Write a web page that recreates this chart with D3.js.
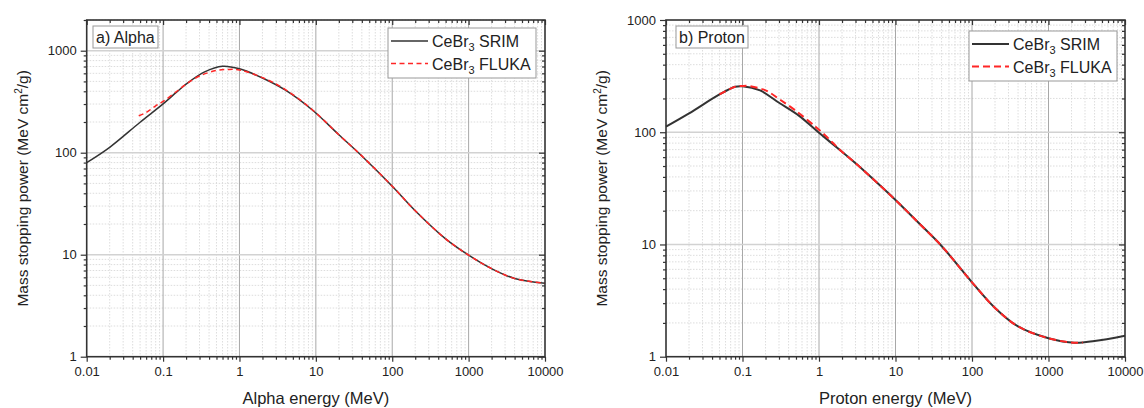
<!DOCTYPE html>
<html>
<head>
<meta charset="utf-8">
<script src="https://cdn.jsdelivr.net/npm/d3@7"></script>
<style>
  body { margin: 0; background: #fff; }
  svg text { font-family: "Liberation Sans", Arial, sans-serif; fill: #222; }
</style>
</head>
<body>
<script>
// values (energy in MeV, mass stopping power in MeV cm2/g)
const alphaSrimE = [0.01, 0.02, 0.05, 0.1, 0.15, 0.2, 0.35, 0.6, 1, 2, 4, 9, 20, 40, 100, 200, 500, 1000, 2000, 4000, 10000];
const alphaSrimS = [80, 113, 199, 301, 392, 470, 620, 703, 664, 540, 410, 262, 150, 93, 47, 27, 14.3, 9.9, 7.3, 5.85, 5.25];
const alphaFlukaE = [0.048, 0.06, 0.08, 0.1, 0.15, 0.2, 0.3, 0.5, 0.7, 1, 2, 4, 9, 20, 40, 100, 200, 500, 1000, 2000, 4000, 10000];
const alphaFlukaS = [230, 248, 288, 318, 398, 470, 565, 640, 655, 648, 545, 416, 264, 150, 93, 47, 27, 14.3, 9.9, 7.3, 5.85, 5.25];

const protonSrimE = [0.01, 0.02, 0.05, 0.08, 0.1, 0.17, 0.3, 0.55, 1, 2, 3.2, 6, 10, 20, 40, 100, 200, 400, 1000, 2200, 4000, 10000];
const protonSrimS = [112, 147, 217, 254, 257, 236, 183, 140, 99, 67, 51, 34.5, 24.9, 15.6, 9.7, 4.6, 2.72, 1.86, 1.46, 1.33, 1.38, 1.54];
const protonFlukaE = [0.05, 0.08, 0.1, 0.12, 0.2, 0.3, 0.5, 0.9, 1.2, 1.5, 2, 3.2, 6, 10, 20, 40, 100, 200, 400, 1000, 2200, 2800];
const protonFlukaS = [217, 254, 258, 258, 236, 198, 155, 112, 94, 81, 67, 51, 34.5, 24.9, 15.6, 9.7, 4.6, 2.72, 1.86, 1.46, 1.33, 1.34];

const xTickVals = [0.01, 0.1, 1, 10, 100, 1000, 10000];
const xTickLabels = ["0.01", "0.1", "1", "10", "100", "1000", "10000"];
const yTickVals = [1, 10, 100, 1000];
const yTickLabels = ["1", "10", "100", "1000"];

const svg = d3.select('body').append('svg')
  .attr('width', 1144)
  .attr('height', 408);

function zip(e, s) {
  return e.map((v, i) => ({ e: v, s: s[i] }));
}

// minor ticks 2..9 inside each decade
function minors(lo, hi) {
  let out = [];
  for (let d = lo; d < hi; d *= 10) {
    for (let k = 2; k <= 9; k++) {
      let v = +(d * k).toPrecision(3);
      if (v <= hi) out.push(v);
    }
  }
  return out;
}

// one axis group per call, so major and minor ticks don't replace each other
function axisGroup(g, tx, ty, axis) {
  return g.append('g').attr('transform', 'translate(' + tx + ',' + ty + ')').call(axis);
}

function drawPanel(p) {
  let g = svg.append('g');
  let x = d3.scaleLog().domain([0.01, 10000]).range([p.x0, p.x1]);
  let y = d3.scaleLog().domain([1, p.yMax]).range([p.y1, p.y0]);
  let xMin = minors(0.01, 10000);
  let yMin = minors(1, p.yMax);

  // minor grid
  g.selectAll('.vminor').data(xMin).enter().append('line')
    .attr('x1', d => x(d)).attr('x2', d => x(d))
    .attr('y1', p.y0).attr('y2', p.y1)
    .attr('stroke', '#d4d4d4').attr('stroke-width', 0.8)
    .attr('stroke-dasharray', '1.5,1.5');
  g.selectAll('.hminor').data(yMin).enter().append('line')
    .attr('y1', d => y(d)).attr('y2', d => y(d))
    .attr('x1', p.x0).attr('x2', p.x1)
    .attr('stroke', '#d4d4d4').attr('stroke-width', 0.8)
    .attr('stroke-dasharray', '1.5,1.5');

  // major grid
  g.selectAll('.vmajor').data(xTickVals.slice(1, -1)).enter().append('line')
    .attr('x1', d => x(d)).attr('x2', d => x(d))
    .attr('y1', p.y0).attr('y2', p.y1)
    .attr('stroke', '#a8a8a8').attr('stroke-width', 1);
  g.selectAll('.hmajor').data(yTickVals.filter(v => v > 1 && v < p.yMax)).enter().append('line')
    .attr('y1', d => y(d)).attr('y2', d => y(d))
    .attr('x1', p.x0).attr('x2', p.x1)
    .attr('stroke', '#d2d2d2').attr('stroke-width', 1.6);

  let line = d3.line()
    .x(d => x(d.e))
    .y(d => y(d.s))
    .curve(d3.curveCatmullRom.alpha(0.5));

  g.append('path')
    .datum(zip(p.srimE, p.srimS))
    .attr('fill', 'none')
    .attr('stroke', '#333')
    .attr('stroke-width', p.lw)
    .attr('d', line);

  g.append('path')
    .datum(zip(p.flukaE, p.flukaS))
    .attr('fill', 'none')
    .attr('stroke', '#ff2626')
    .attr('stroke-width', p.lw)
    .attr('stroke-dasharray', p.dash)
    .attr('d', line);

  // axes: bottom and left outward, top and right mirrored inward
  let fmtX = d => xTickLabels[xTickVals.indexOf(d)];
  let fmtY = d => yTickLabels[yTickVals.indexOf(d)];

  axisGroup(g, 0, p.y1, d3.axisBottom(x).tickValues(xTickVals).tickFormat(fmtX).tickSize(5).tickPadding(5).tickSizeOuter(0));
  axisGroup(g, 0, p.y1, d3.axisBottom(x).tickValues(xMin).tickFormat('').tickSize(3).tickSizeOuter(0));
  axisGroup(g, 0, p.y0, d3.axisBottom(x).tickValues(xTickVals).tickFormat('').tickSize(5).tickSizeOuter(0));
  axisGroup(g, 0, p.y0, d3.axisBottom(x).tickValues(xMin).tickFormat('').tickSize(3).tickSizeOuter(0));
  axisGroup(g, p.x0, 0, d3.axisLeft(y).tickValues(yTickVals).tickFormat(fmtY).tickSize(6).tickPadding(4).tickSizeOuter(0));
  axisGroup(g, p.x0, 0, d3.axisLeft(y).tickValues(yMin).tickFormat('').tickSize(3).tickSizeOuter(0));
  axisGroup(g, p.x1, 0, d3.axisLeft(y).tickValues(yTickVals).tickFormat('').tickSize(6).tickSizeOuter(0));
  axisGroup(g, p.x1, 0, d3.axisLeft(y).tickValues(yMin).tickFormat('').tickSize(3).tickSizeOuter(0));

  g.selectAll('.domain').remove();
  g.selectAll('.tick line').attr('stroke', '#333').attr('stroke-width', 1.2);
  g.selectAll('.tick text').style('font-size', '13px').attr('fill', '#222');

  g.append('rect')
    .attr('x', p.x0).attr('y', p.y0)
    .attr('width', p.x1 - p.x0).attr('height', p.y1 - p.y0)
    .attr('fill', 'none').attr('stroke', '#333').attr('stroke-width', 1.6);

  // axis titles
  g.append('text')
    .attr('x', (p.x0 + p.x1) / 2)
    .attr('y', 404)
    .attr('text-anchor', 'middle')
    .style('font-size', '16.5px')
    .text(p.xTitle);

  let yt = g.append('text')
    .attr('transform', 'translate(' + (p.x0 - 59) + ',' + ((p.y0 + p.y1) / 2) + ')rotate(-90)')
    .attr('text-anchor', 'middle')
    .style('font-size', '15.5px');
  yt.append('tspan').text('Mass stopping power (MeV cm');
  yt.append('tspan').attr('dy', -6).style('font-size', '10px').text('2');
  yt.append('tspan').attr('dy', 6).text('/g)');

  // panel label
  g.append('rect')
    .attr('x', p.labX).attr('y', 26)
    .attr('width', p.labW).attr('height', 22)
    .attr('fill', '#fff').attr('stroke', '#999').attr('stroke-width', 1);
  g.append('text')
    .attr('x', p.labX + 3).attr('y', 43)
    .style('font-size', '16px')
    .text(p.label);

  // legend
  let lx = p.legX, ly = p.legY;
  g.append('rect')
    .attr('x', lx).attr('y', ly)
    .attr('width', 148).attr('height', 50)
    .attr('fill', '#fff').attr('stroke', '#999').attr('stroke-width', 1);
  let items = [
    { name: 'SRIM', color: '#333', dash: null },
    { name: 'FLUKA', color: '#ff2626', dash: p.dash }
  ];
  items.forEach((it, i) => {
    let cy = ly + 13 + i * 22.5;
    g.append('line')
      .attr('x1', lx + 3).attr('x2', lx + 40)
      .attr('y1', cy).attr('y2', cy)
      .attr('stroke', it.color).attr('stroke-width', p.lw)
      .attr('stroke-dasharray', it.dash);
    let t = g.append('text')
      .attr('x', lx + 44).attr('y', cy + 6)
      .style('font-size', '16px');
    t.append('tspan').text('CeBr');
    t.append('tspan').attr('dy', 4).style('font-size', '11px').text('3');
    t.append('tspan').attr('dy', -4).text(' ' + it.name);
  });
}

drawPanel({
  x0: 86.7, x1: 545, y0: 20, y1: 356.7, yMax: 2000,
  srimE: alphaSrimE, srimS: alphaSrimS, flukaE: alphaFlukaE, flukaS: alphaFlukaS,
  lw: 1.5, dash: '5,3.5',
  xTitle: 'Alpha energy (MeV)', label: 'a) Alpha', labX: 93, labW: 65,
  legX: 388, legY: 28
});

drawPanel({
  x0: 666, x1: 1125, y0: 20, y1: 356.7, yMax: 1000,
  srimE: protonSrimE, srimS: protonSrimS, flukaE: protonFlukaE, flukaS: protonFlukaS,
  lw: 2, dash: '7,4',
  xTitle: 'Proton energy (MeV)', label: 'b) Proton', labX: 676, labW: 72,
  legX: 969, legY: 31
});
</script>
</body>
</html>
